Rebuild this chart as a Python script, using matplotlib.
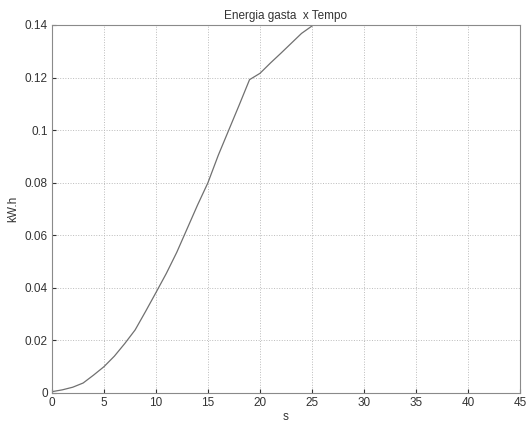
import matplotlib
matplotlib.use("Agg")
import matplotlib.pyplot as plt

# energia acumulada (kW.h) por segundo
tempo = list(range(0, 26))
energia = [
    0.0005, 0.0012, 0.0022, 0.0038, 0.0068, 0.0100, 0.0140, 0.0188, 0.0240,
    0.0310, 0.0382, 0.0455, 0.0535, 0.0625, 0.0715, 0.0800, 0.0905, 0.1000,
    0.1095, 0.1192, 0.1216, 0.1255, 0.1292, 0.1330, 0.1368, 0.1396,
]
x_ticks = list(range(0, 50, 5))
y_ticks = [0, 0.02, 0.04, 0.06, 0.08, 0.1, 0.12, 0.14]
y_labels = ["0", "0.02", "0.04", "0.06", "0.08", "0.1", "0.12", "0.14"]

plt.rcParams["font.family"] = ["Liberation Sans", "DejaVu Sans"]

fig = plt.figure(figsize=(5.3, 4.25), dpi=100)
ax = fig.add_axes([0.098, 0.0753, 0.883, 0.8659])

ax.plot(tempo, energia, color="#707070", lw=0.9)

ax.set_xlim(0, 45)
ax.set_ylim(0, 0.14)
ax.set_xticks(x_ticks)
ax.set_yticks(y_ticks)
ax.set_yticklabels(y_labels)
ax.tick_params(direction="in", length=3, labelsize=8.5, colors="#333333",
               pad=3)
ax.grid(True, linestyle=":", color="#bbbbbb", lw=0.7)
for s in ax.spines.values():
    s.set_color("#8a8a8a")
    s.set_linewidth(0.8)

ax.set_title("Energia gasta  x Tempo", fontsize=8.5, color="#333333", pad=4)
ax.set_xlabel("s", fontsize=8.5, color="#333333", labelpad=1)
ax.set_ylabel("kW.h", fontsize=8.5, color="#333333", labelpad=4)

fig.savefig("out.png", dpi=100, facecolor="white")
